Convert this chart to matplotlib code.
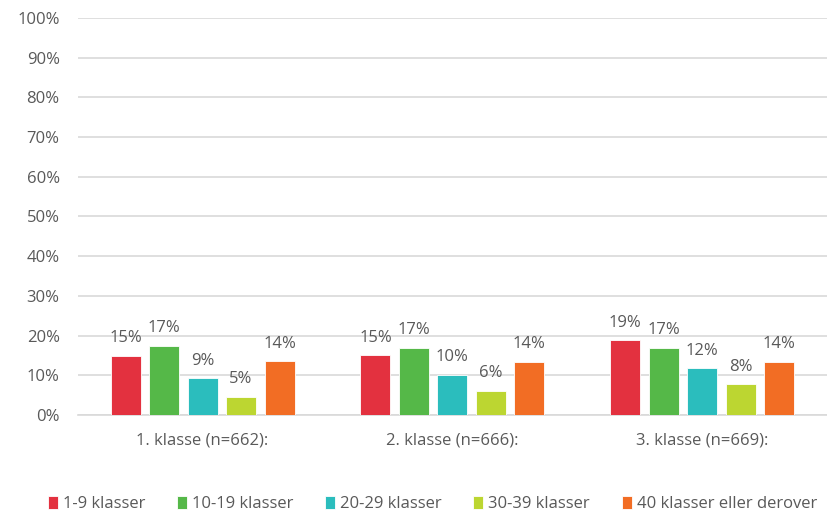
import numpy as np
import matplotlib.pyplot as plt
from matplotlib.ticker import PercentFormatter

plt.rcParams['font.family'] = ['Open Sans', 'DejaVu Sans']

# data
groups = ['1. klasse (n=662):', '2. klasse (n=666):', '3. klasse (n=669):']
series = ['1-9 klasser', '10-19 klasser', '20-29 klasser', '30-39 klasser', '40 klasser eller derover']
vals_1_9 = [14.9, 15.0, 18.8]
vals_10_19 = [17.4, 16.9, 16.9]
vals_20_29 = [9.2, 10.1, 11.8]
vals_30_39 = [4.6, 6.1, 7.7]
vals_40 = [13.5, 13.4, 13.4]
labels_1_9 = ['15%', '15%', '19%']
labels_10_19 = ['17%', '17%', '17%']
labels_20_29 = ['9%', '10%', '12%']
labels_30_39 = ['5%', '6%', '8%']
labels_40 = ['14%', '14%', '14%']
colors = ['#E3313F', '#55B848', '#2BBDBD', '#BCD631', '#F26D24']

all_vals = [vals_1_9, vals_10_19, vals_20_29, vals_30_39, vals_40]
all_labels = [labels_1_9, labels_10_19, labels_20_29, labels_30_39, labels_40]

txt = '#595959'
fig = plt.figure(figsize=(8.27, 5.11), dpi=100)
ax = fig.add_axes([0.094, 0.188, 0.906, 0.777])

x = np.arange(len(groups))
step = 0.154
width = 0.12
for i in range(len(series)):
    pos = x + (i - 2) * step
    bars = ax.bar(pos, all_vals[i], width, color=colors[i], label=series[i],
                  edgecolor='white', linewidth=0.6, zorder=3)
    for b, lab in zip(bars, all_labels[i]):
        ax.text(b.get_x() + b.get_width() / 2, b.get_height() + 2.4, lab,
                ha='center', va='bottom', fontsize=12, color=txt)

ax.set_ylim(0, 100)
ax.set_xlim(-0.5, 2.5)
ax.set_yticks(np.arange(0, 101, 10))
ax.yaxis.set_major_formatter(PercentFormatter(decimals=0))
ax.set_xticks(x)
ax.set_xticklabels(groups, fontsize=12)
ax.grid(axis='y', color='#D9D9D9', linewidth=1.2, zorder=0)
for s in ['top', 'right', 'left']:
    ax.spines[s].set_visible(False)
ax.spines['bottom'].set_color('#D9D9D9')
ax.spines['bottom'].set_linewidth(1.2)
ax.tick_params(axis='both', length=0, colors=txt)
ax.tick_params(axis='y', pad=13, labelsize=12)
ax.tick_params(axis='x', pad=13)

leg = fig.legend(loc='lower center', bbox_to_anchor=(0.523, -0.032), ncol=5,
                 frameon=False, fontsize=12, handlelength=0.6, handleheight=0.75,
                 handletextpad=0.3, columnspacing=1.9)
for t in leg.get_texts():
    t.set_color(txt)

fig.savefig('out.png', dpi=100)
